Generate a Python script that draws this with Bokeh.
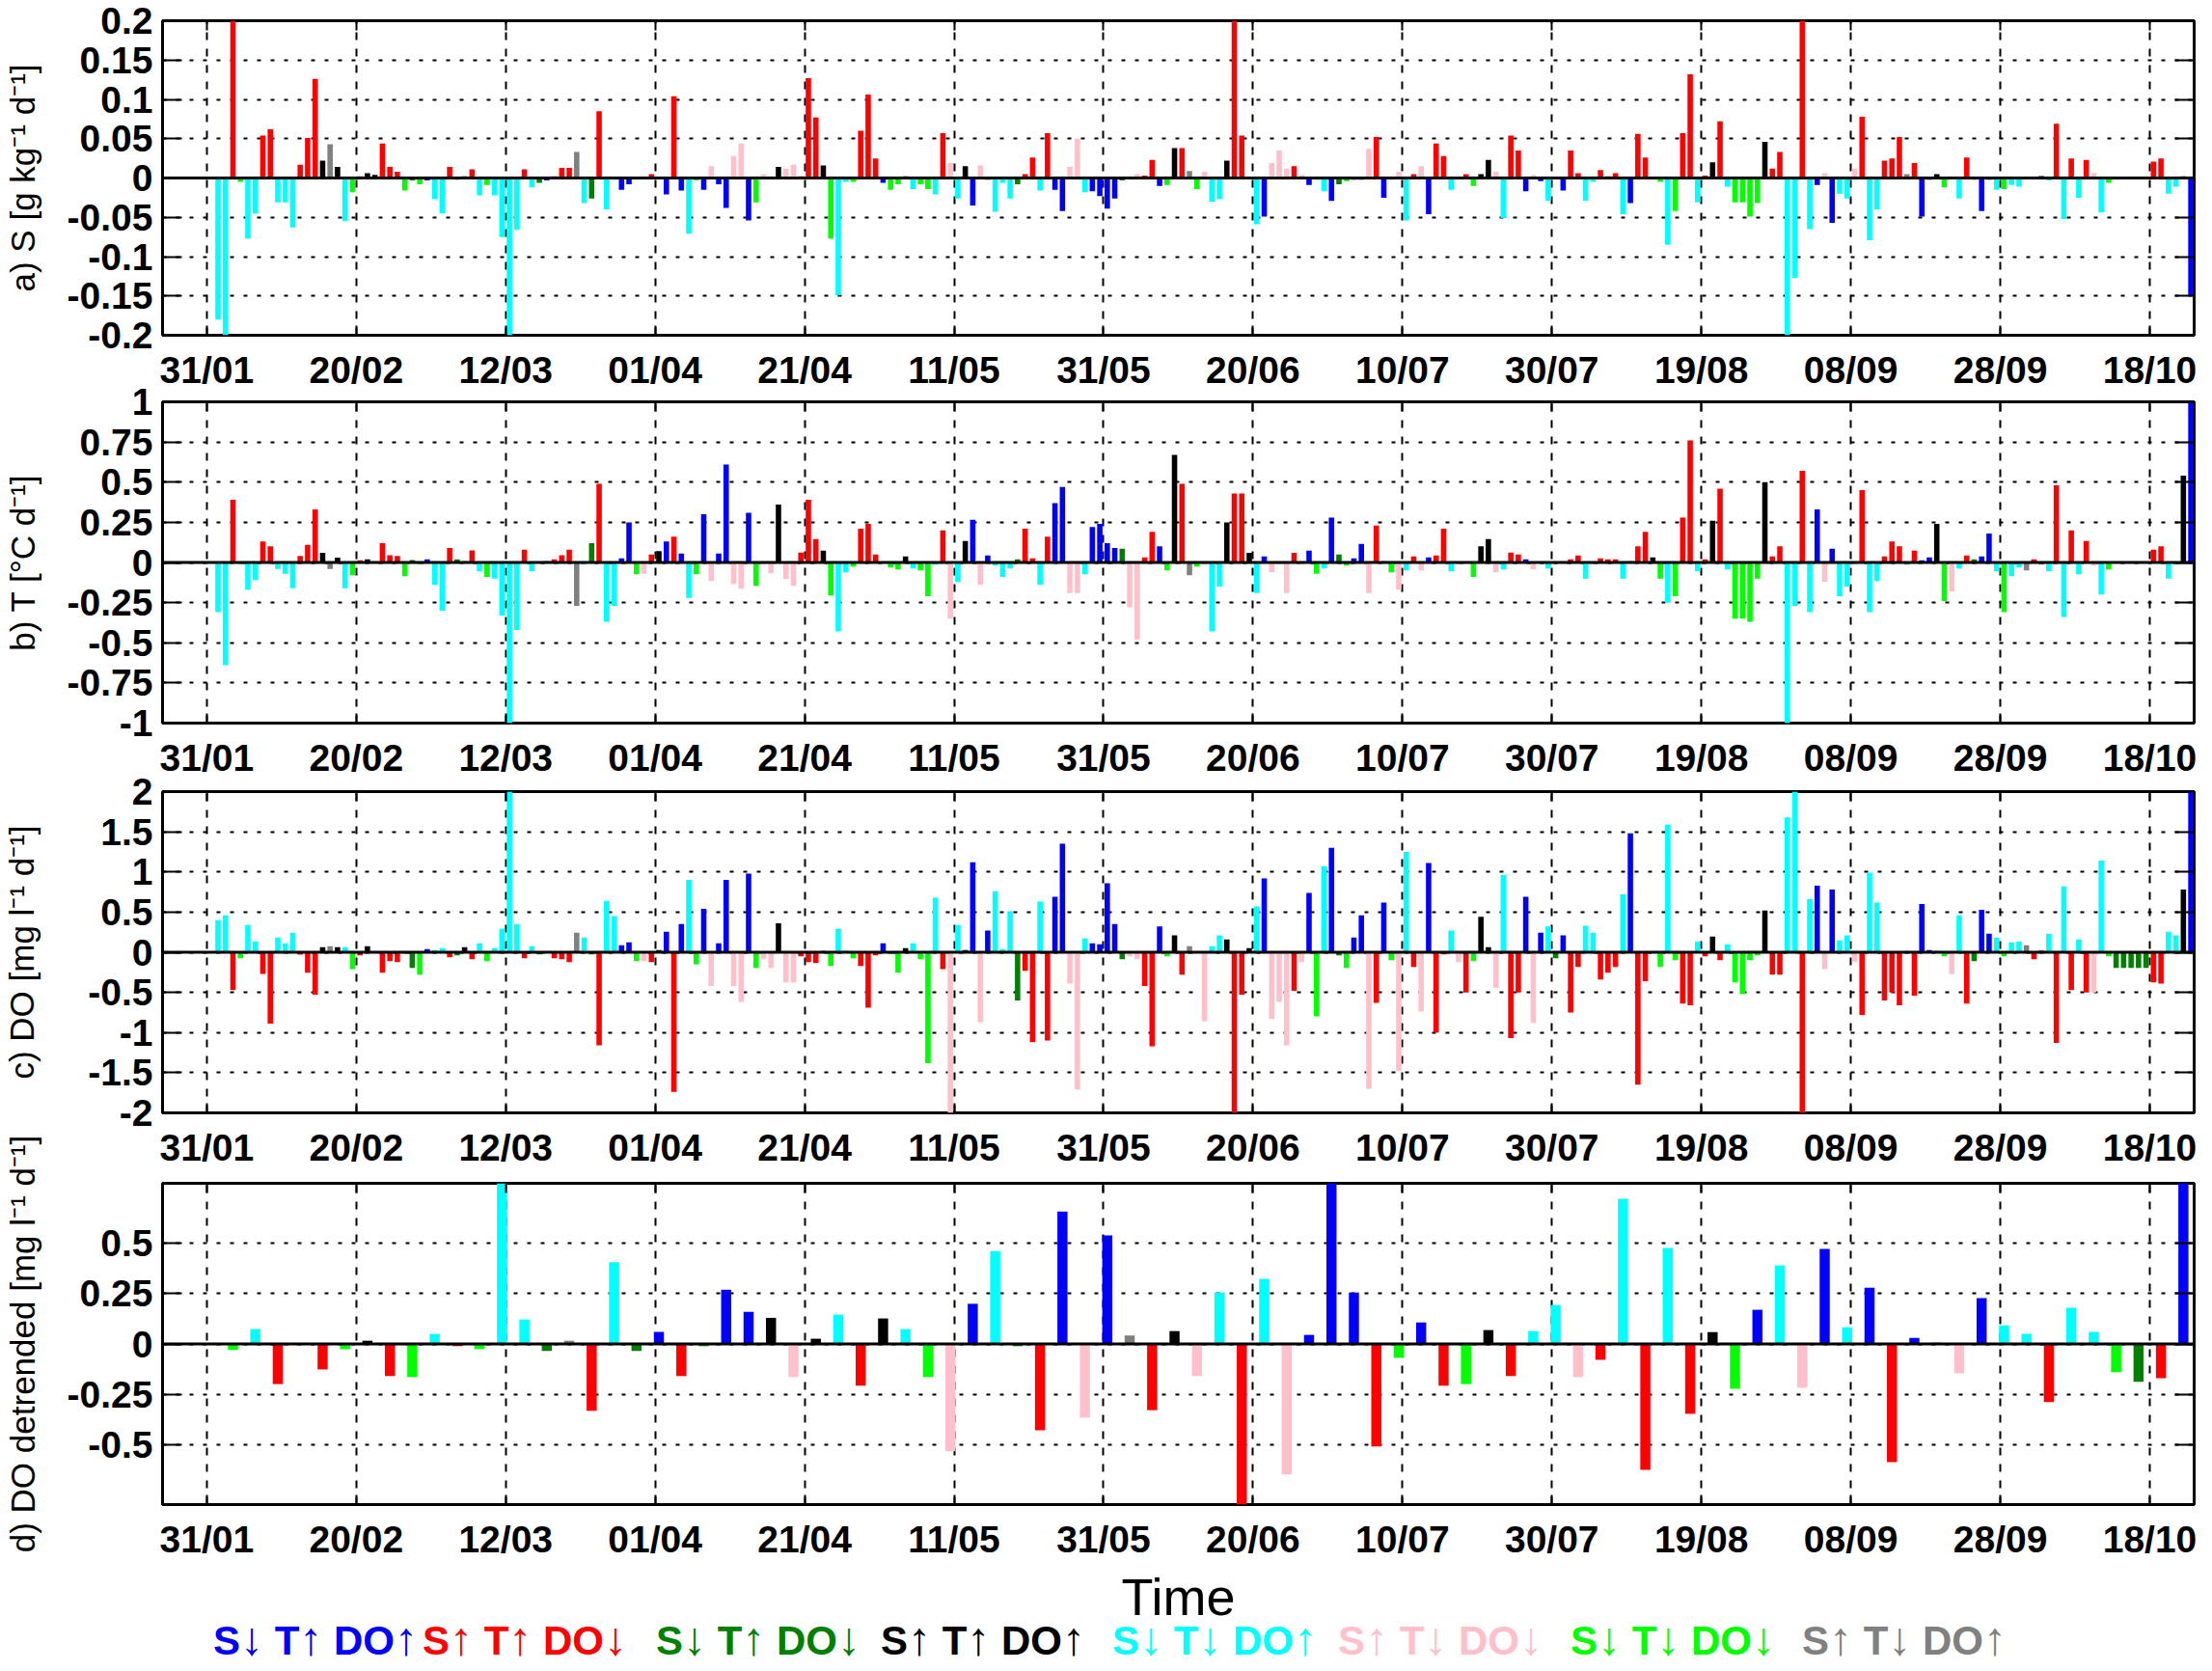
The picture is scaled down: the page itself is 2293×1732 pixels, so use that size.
import numpy as np
from bokeh.plotting import figure
from bokeh.models import Range1d, FixedTicker, LinearAxis, Span, ColumnDataSource, Div
from bokeh.layouts import column
from bokeh.embed import file_html
from bokeh.resources import INLINE

# ---------------- data ----------------
# x axis: days counted from 31/01
tick_days = list(range(0, 261, 20))
tick_labels = ["31/01", "20/02", "12/03", "01/04", "21/04", "11/05", "31/05",
               "20/06", "10/07", "30/07", "19/08", "08/09", "28/09", "18/10"]

day = list(range(1, 266))

# a) salinity daily change [g kg-1 d-1]
s_rate = [
    -0.18, -0.2, 0.2, -0.005, -0.077, -0.045, 0.054, 0.062, -0.031, -0.031,
    -0.063, 0.017, 0.051, 0.126, 0.022, 0.043, 0.014, -0.055, -0.018, 0.002,
    0.006, 0.004, 0.044, 0.014, 0.008, -0.016, -0.003, -0.008, -0.003, -0.027,
    -0.045, 0.014, -0.002, 0.002, 0.011, -0.022, -0.009, -0.022, -0.075, -0.2,
    -0.066, 0.011, -0.012, -0.006, -0.003, 0.002, 0.013, 0.013, 0.033, -0.032,
    -0.026, 0.085, -0.04, -0.002, -0.015, -0.008, -0.002, 0.002, 0.005, 0.001,
    -0.021, 0.104, -0.016, -0.071, -0.003, -0.015, 0.015, -0.008, -0.038, 0.028,
    0.044, -0.054, -0.031, 0.005, 0.002, 0.014, 0.012, 0.017, 0.002, 0.127,
    0.077, 0.016, -0.077, -0.149, -0.005, -0.005, 0.06, 0.106, 0.025, -0.006,
    -0.015, -0.008, 0.002, -0.014, -0.008, -0.014, -0.021, 0.057, 0.019, -0.026,
    0.015, -0.035, 0.016, -0.002, -0.043, -0.006, -0.026, -0.008, 0.005, 0.026,
    -0.016, 0.057, -0.015, -0.042, 0.014, 0.05, -0.018, -0.017, -0.023, -0.039,
    -0.026, -0.003, 0.002, 0.005, 0.003, 0.023, -0.01, -0.009, 0.038, 0.038,
    0.009, -0.014, 0.008, -0.03, -0.027, 0.022, 0.2, 0.054, 0.001, -0.059,
    -0.049, 0.019, 0.035, 0.012, 0.015, 0.004, -0.009, -0.002, -0.017, -0.029,
    -0.008, -0.004, -0.002, -0.002, 0.037, 0.052, -0.025, -0.002, 0.008, -0.054,
    0.005, 0.015, -0.046, 0.044, 0.028, -0.015, 0.002, 0.005, -0.01, 0.005,
    0.023, 0.008, -0.051, 0.054, 0.035, -0.017, 0.004, -0.004, -0.029, -0.001,
    -0.016, 0.035, 0.006, -0.029, -0.005, 0.01, 0.002, 0.006, -0.046, -0.032,
    0.056, 0.026, 0.001, -0.005, -0.085, -0.042, 0.057, 0.132, -0.031, 0.003,
    0.02, 0.072, -0.011, -0.031, -0.031, -0.049, -0.032, 0.046, 0.012, 0.033,
    -0.2, -0.127, 0.2, -0.065, -0.009, 0.006, -0.057, -0.02, -0.026, 0.012,
    0.078, -0.079, -0.04, 0.022, 0.025, 0.052, 0.005, 0.019, -0.049, -0.002,
    0.005, -0.012, 0.002, -0.026, 0.026, -0.002, -0.042, -0.002, -0.015, -0.014,
    -0.009, -0.011, 0.001, 0.001, 0.003, -0.003, 0.069, -0.052, 0.025, -0.025,
    0.023, 0.006, -0.044, -0.006, -0.001, -0.001, -0.001, -0.001, -0.001, 0.021,
    0.025, -0.02, -0.011, 0.002, -0.15]

# b) temperature daily change [degC d-1]
t_rate = [
    -0.31, -0.64, 0.39, -0.01, -0.17, -0.11, 0.13, 0.10, -0.04, -0.07,
    -0.16, 0.04, 0.11, 0.33, 0.06, -0.04, 0.03, -0.16, -0.08, 0.014,
    0.02, 0.005, 0.12, 0.045, 0.04, -0.085, 0.015, -0.01, 0.02, -0.14,
    -0.3, 0.09, 0.02, 0.008, 0.075, -0.056, -0.09, -0.1, -0.33, -1.0,
    -0.42, 0.08, -0.056, 0.005, 0.008, 0.02, 0.045, 0.08, -0.27, -0.01,
    0.12, 0.49, -0.37, -0.27, 0.026, 0.25, -0.074, -0.07, 0.05, 0.07,
    0.13, 0.16, 0.056, -0.22, -0.074, 0.3, -0.116, 0.056, 0.61, -0.134,
    -0.164, 0.31, -0.146, -0.01, -0.068, 0.36, -0.104, -0.146, 0.062, 0.39,
    0.146, 0.074, -0.206, -0.43, -0.062, -0.026, 0.21, 0.24, 0.05, 0.005,
    -0.032, -0.044, 0.038, -0.038, -0.05, -0.21, -0.014, 0.2, -0.35, -0.122,
    0.134, 0.266, -0.14, 0.044, -0.02, -0.09, -0.038, 0.02, 0.21, 0.026,
    -0.14, 0.16, 0.37, 0.47, -0.19, -0.19, -0.074, 0.22, 0.24, 0.12,
    0.09, 0.086, -0.28, -0.48, 0.032, 0.19, 0.1, -0.05, 0.67, 0.49,
    -0.08, -0.026, -0.01, -0.43, -0.15, 0.25, 0.43, 0.43, 0.06, -0.19,
    0.038, -0.06, -0.01, -0.19, 0.06, -0.01, 0.074, -0.07, -0.038, 0.28,
    0.05, -0.02, 0.026, 0.116, -0.19, 0.23, 0.008, -0.062, -0.17, -0.05,
    0.038, -0.05, 0.032, 0.044, 0.21, -0.056, -0.01, 0.005, -0.09, 0.1,
    0.146, -0.062, -0.044, 0.062, 0.05, 0.02, -0.044, 0.005, -0.038, 0.003,
    0.005, 0.02, 0.044, -0.1, -0.01, 0.026, 0.02, 0.02, -0.1, 0.008,
    0.1, 0.19, 0.032, -0.1, -0.25, -0.21, 0.28, 0.76, -0.056, 0.02,
    0.26, 0.46, -0.044, -0.35, -0.35, -0.37, -0.1, 0.5, 0.038, 0.1,
    -1.0, -0.27, 0.57, -0.31, 0.33, -0.12, 0.086, -0.21, -0.15, -0.01,
    0.45, -0.31, -0.116, 0.038, 0.13, 0.1, -0.014, 0.074, 0.014, 0.032,
    0.24, -0.24, -0.18, -0.038, 0.044, 0.02, 0.038, 0.18, -0.056, -0.31,
    -0.086, -0.032, -0.05, 0.02, -0.014, -0.056, 0.48, -0.34, 0.2, -0.074,
    0.134, -0.02, -0.2, -0.044, 0.004, 0.004, 0.004, 0.004, 0.004, 0.08,
    0.1, -0.1, -0.014, 0.54, 1.0]

# c) dissolved oxygen daily change [mg l-1 d-1]
do_rate = [
    0.40, 0.46, -0.47, -0.076, 0.34, 0.136, -0.27, -0.89, 0.184, 0.11,
    0.244, -0.03, -0.256, -0.53, 0.064, 0.076, 0.064, 0.064, -0.21, -0.04,
    0.076, 0.01, -0.256, -0.11, -0.124, -0.02, -0.196, -0.28, 0.04, 0.028,
    0.052, -0.064, -0.04, 0.064, -0.088, 0.11, -0.11, 0.052, 0.29, 2.0,
    0.35, -0.076, 0.076, -0.028, 0.01, -0.076, -0.088, -0.124, 0.244, 0.184,
    -0.028, -1.16, 0.64, 0.45, 0.088, 0.124, -0.11, -0.11, -0.124, 0.028,
    0.256, -1.74, 0.35, 0.9, -0.15, 0.54, -0.42, 0.11, 0.9, -0.42,
    -0.62, 0.98, -0.196, -0.088, -0.196, 0.36, -0.376, -0.376, -0.052, -0.124,
    -0.136, 0.016, -0.17, 0.29, 0.02, -0.076, -0.17, -0.69, -0.04, 0.11,
    -0.02, -0.256, 0.052, 0.11, -0.088, -1.38, 0.68, -0.21, -2.0, 0.34,
    0.028, 1.12, -0.87, 0.27, 0.76, 0.04, 0.51, -0.6, -0.23, -1.12,
    0.63, -1.1, 0.69, 1.35, -0.39, -1.71, 0.17, 0.11, 0.1, 0.86,
    0.35, -0.088, -0.05, -0.088, -0.42, -1.17, 0.32, -0.05, 0.21, -0.28,
    0.076, -0.01, -0.86, 0.076, 0.21, 0.16, -2.0, -0.53, 0.052, 0.57,
    0.92, -0.83, -0.62, -1.16, -0.48, -0.124, 0.74, -0.8, 1.07, 1.3,
    -0.04, -0.196, 0.184, 0.46, -1.7, -0.63, 0.62, -0.1, -1.48, 1.25,
    -0.184, -0.74, 1.11, -1.0, -0.028, 0.27, -0.124, -0.5, -0.11, 0.44,
    0.064, -0.44, 0.96, -1.07, -0.5, 0.69, -0.88, 0.244, 0.32, -0.076,
    0.21, -0.75, -0.184, 0.33, 0.244, -0.34, -0.256, -0.184, 0.72, 1.48,
    -1.65, -0.36, 0.01, -0.184, 1.59, -0.1, -0.64, -0.66, 0.136, -0.052,
    0.196, -0.1, 0.1, -0.376, -0.52, -0.1, -0.04, 0.52, -0.28, -0.28,
    1.68, 2.0, -2.0, 0.66, 0.83, -0.21, 0.78, 0.148, 0.21, -0.124,
    -0.78, 0.99, 0.62, -0.6, -0.5, -0.66, 0.016, -0.54, 0.6, 0.028,
    0.016, -0.052, -0.27, 0.46, -0.64, -0.11, 0.53, 0.23, 0.184, -0.052,
    0.124, 0.136, 0.088, -0.088, 0.028, 0.23, -1.13, 0.82, -0.47, 0.16,
    -0.5, -0.5, 1.14, -0.052, -0.196, -0.196, -0.196, -0.196, -0.196, -0.376,
    -0.39, 0.256, 0.21, 0.78, 2.0]

# d) detrended DO, 3-day steps (start day of each step)
dd_day = list(range(3, 265, 3))
dd_rate = [
    -0.03, 0.074, -0.2, -0.005, -0.127, -0.026, 0.016, -0.16, -0.165, 0.05,
    -0.011, -0.026, 0.8, 0.122, -0.035, 0.016, -0.333, 0.407, -0.035, 0.06,
    -0.16, -0.011, 0.27, 0.16, 0.13, -0.165, 0.026, 0.146, -0.208, 0.127,
    0.074, -0.165, -0.535, 0.2, 0.463, -0.011, -0.43, 0.66, -0.367, 0.54,
    0.042, -0.33, 0.064, -0.16, 0.256, -0.8, 0.324, -0.65, 0.045, 0.8,
    0.256, -0.51, -0.069, 0.107, -0.208, -0.2, 0.069, -0.16, 0.064, 0.194,
    -0.165, -0.079, 0.723, -0.627, 0.478, -0.348, 0.059, -0.223, 0.17, 0.391,
    -0.218, 0.473, 0.083, 0.28, -0.588, 0.03, 0.006, -0.146, 0.228, 0.093,
    0.05, -0.29, 0.18, 0.06, -0.141, -0.189, -0.17, 0.8]
dd_cat = [
    "L", "C", "R", "R", "R", "L", "K", "R", "L", "C",
    "R", "L", "C", "C", "G", "Y", "R", "C", "G", "B",
    "R", "G", "B", "B", "K", "P", "K", "C", "R", "K",
    "C", "L", "P", "B", "C", "G", "R", "B", "P", "B",
    "Y", "R", "K", "P", "C", "R", "C", "P", "B", "B",
    "B", "R", "L", "B", "R", "L", "K", "R", "C", "C",
    "P", "R", "C", "R", "C", "R", "K", "L", "B", "C",
    "P", "B", "C", "B", "R", "B", "B", "P", "B", "C",
    "C", "R", "C", "C", "L", "G", "R", "B"]

# categories: sign of (S, T, DO) -> colour
cat_color = {"B": "#0000ff", "R": "#ff0000", "G": "#008000", "K": "#000000",
             "C": "#00ffff", "P": "#ffc0cb", "L": "#00ff00", "Y": "#808080"}
sign_cat = {(-1, 1, 1): "B", (1, 1, -1): "R", (-1, 1, -1): "G", (1, 1, 1): "K",
            (-1, -1, 1): "C", (1, -1, -1): "P", (-1, -1, -1): "L", (1, -1, 1): "Y"}
legend_groups = [("B", "S↓ ", "T↑ ", "DO↑"), ("R", "S↑ ", "T↑ ", "DO↓"),
                 ("G", "S↓ ", "T↑ ", "DO↓"), ("K", "S↑ ", "T↑ ", "DO↑"),
                 ("C", "S↓ ", "T↓ ", "DO↑"), ("P", "S↑ ", "T↓ ", "DO↓"),
                 ("L", "S↓ ", "T↓ ", "DO↓"), ("Y", "S↑ ", "T↓ ", "DO↑")]

# ---------------- plotting ----------------
FONT = "Liberation Sans"
W, BL, BR = 2277, 165, 3
X0, X1 = -5.92, 265.94


def sgn(v):
    return 1 if v > 0 else -1


daily_color = [cat_color[sign_cat[(sgn(a), sgn(b), sgn(c))]]
               for a, b, c in zip(s_rate, t_rate, do_rate)]
xc = [d + 0.5 for d in day]


def fmt(v):
    s = ("%.2f" % v).rstrip("0").rstrip(".")
    return "0" if s in ("-0", "") else s


def style_axis(ax, tick_in, show_labels):
    ax.axis_line_color = None
    ax.major_tick_in = tick_in
    ax.major_tick_out = 0
    ax.minor_tick_line_color = None
    ax.major_tick_line_width = 2
    ax.major_tick_line_color = "black"
    ax.major_label_text_font = FONT
    ax.major_label_text_font_style = "bold"
    if show_labels:
        ax.major_label_text_font_size = "39px"
        ax.major_label_text_color = "black"
    else:
        ax.major_label_text_font_size = "1px"
        ax.major_label_text_color = None
        ax.major_label_standoff = 0


def panel(top, frame_h, bottom, shift, yr, yticks, ylabel, lab_standoff):
    p = figure(width=W, height=top + frame_h + bottom,
               x_range=Range1d(X0, X1), y_range=Range1d(*yr),
               output_backend="svg", toolbar_location=None,
               min_border_left=BL, min_border_right=BR,
               min_border_top=top, min_border_bottom=bottom,
               margin=(shift, 0, 0, 0))
    p.outline_line_color = "black"
    p.outline_line_width = 3
    p.background_fill_color = "white"
    p.border_fill_color = None      # transparent, panels may overlap slightly

    xax = p.below[0]
    xax.ticker = FixedTicker(ticks=tick_days)
    xax.major_label_overrides = {d: l for d, l in zip(tick_days, tick_labels)}
    style_axis(xax, 10, True)
    xax.major_label_standoff = 14

    yax = p.left[0]
    yax.ticker = FixedTicker(ticks=yticks)
    yax.major_label_overrides = {v: fmt(v) for v in yticks}
    style_axis(yax, 20, True)
    yax.major_label_standoff = 10
    yax.axis_label = ylabel
    yax.axis_label_text_font = FONT
    yax.axis_label_text_font_size = "35px"
    yax.axis_label_text_font_style = "normal"
    yax.axis_label_text_color = "black"
    yax.axis_label_standoff = lab_standoff

    right = LinearAxis(ticker=FixedTicker(ticks=yticks))
    style_axis(right, 20, False)
    p.add_layout(right, "right")
    topax = LinearAxis(ticker=FixedTicker(ticks=tick_days))
    style_axis(topax, 10, False)
    p.add_layout(topax, "above")

    p.xgrid.grid_line_color = "black"
    p.xgrid.grid_line_width = 2
    p.xgrid.grid_line_dash = "8 9"
    p.ygrid.grid_line_color = "black"
    p.ygrid.grid_line_width = 2
    p.ygrid.grid_line_dash = "4 10"
    return p


def add_bars(p, x, vals, colors, width):
    src = ColumnDataSource(dict(x=x, top=vals, color=colors))
    p.vbar(x="x", top="top", bottom=0, width=width, source=src,
           fill_color="color", line_color=None)
    p.add_layout(Span(location=0, dimension="width", line_color="black",
                      line_width=3))


pa = panel(21, 326, 66, 0, (-0.2, 0.2),
           [-0.2, -0.15, -0.1, -0.05, 0, 0.05, 0.1, 0.15, 0.2],
           "a) S [g kg⁻¹ d⁻¹]", 24)
add_bars(pa, xc, s_rate, daily_color, 0.72)

pb = panel(22, 333, 66, -19, (-1, 1),
           [-1, -0.75, -0.5, -0.25, 0, 0.25, 0.5, 0.75, 1],
           "b) T [°C d⁻¹]", 24)
add_bars(pb, xc, t_rate, daily_color, 0.72)

pc = panel(22, 333, 66, -17, (-2, 2),
           [-2, -1.5, -1, -0.5, 0, 0.5, 1, 1.5, 2],
           "c) DO [mg l⁻¹ d⁻¹]", 46)
add_bars(pc, xc, do_rate, daily_color, 0.72)

pd_ = panel(60, 337, 124, -53, (-0.8, 0.8),
            [-0.5, -0.25, 0, 0.25, 0.5],
            "d) DO detrended [mg l⁻¹ d⁻¹]", 24)
time_ax = pd_.below[0]
time_ax.axis_label = "Time"
time_ax.axis_label_text_font = FONT
time_ax.axis_label_text_font_size = "54px"
time_ax.axis_label_text_font_style = "normal"
time_ax.axis_label_text_color = "black"
time_ax.axis_label_standoff = 5
add_bars(pd_, [d + 0.5 for d in dd_day], dd_rate,
         [cat_color[c] for c in dd_cat], 1.35)

# legend as coloured text
starts = [221, 438, 680, 913, 1153, 1387, 1628, 1868]
parts = []
for (cat, a, b, c), left in zip(legend_groups, starts):
    spans = []
    for t in (a, b, c):
        core = t.rstrip(" ")
        letters, arrow = core[:-1], core[-1]
        tail = "&nbsp;" if t.endswith(" ") else ""
        spans.append(f'{letters}<span style="font-weight:normal;font-size:48px">'
                     f'{arrow}</span>{tail}')
    parts.append(f'<span style="position:absolute;left:{left}px;top:0;'
                 f'color:{cat_color[cat]}">{"".join(spans)}</span>')
legend_html = (f'<div style="position:relative;width:{W}px;height:30px;'
               f'font-family:\'{FONT}\';font-size:42px;font-weight:bold;'
               f'line-height:30px;white-space:nowrap;">' + "".join(parts) + '</div>')
legend = Div(text=legend_html, width=W, height=30, margin=(-3, 0, 0, 0))

layout = column(pa, pb, pc, pd_, legend, spacing=0)
open("out.html", "w").write(file_html(layout, INLINE))
